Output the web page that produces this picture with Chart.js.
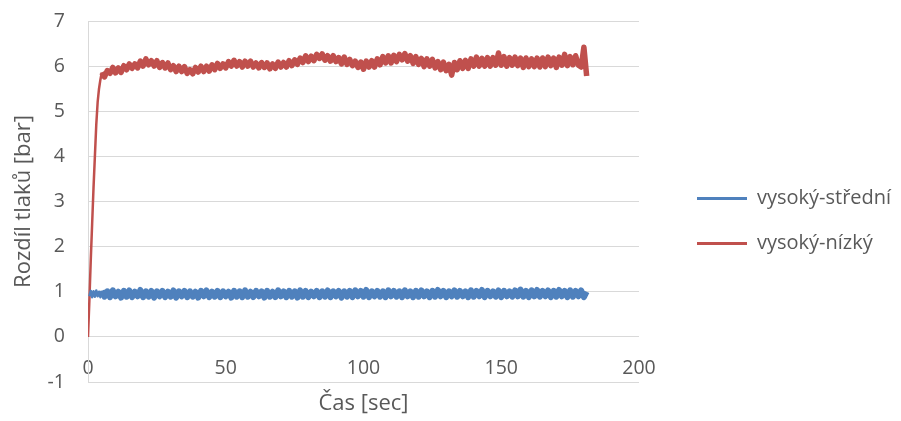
<!DOCTYPE html>
<html>
<head>
<meta charset="utf-8">
<script src="https://cdn.jsdelivr.net/npm/chart.js@4.4.1/dist/chart.umd.min.js"></script>
<style>
  html, body { margin: 0; padding: 0; background: #fff; }
  #wrap { width: 901px; height: 421px; position: relative; }
</style>
</head>
<body>
<div id="wrap"><canvas id="myChart"></canvas></div>
<script>
// sample times [sec]
var times = [0, 0.5, 1, 1.5, 2, 2.5, 3, 3.5, 4, 4.5,
    5, 6, 7, 8, 9, 10, 11, 12, 13, 14, 15, 16, 17, 18, 19, 20, 21, 22, 23, 24,
    25, 26, 27, 28, 29, 30, 31, 32, 33, 34, 35, 36, 37, 38, 39, 40, 41, 42, 43, 44,
    45, 46, 47, 48, 49, 50, 51, 52, 53, 54, 55, 56, 57, 58, 59, 60, 61, 62, 63, 64,
    65, 66, 67, 68, 69, 70, 71, 72, 73, 74, 75, 76, 77, 78, 79, 80, 81, 82, 83, 84,
    85, 86, 87, 88, 89, 90, 91, 92, 93, 94, 95, 96, 97, 98, 99, 100, 101, 102, 103, 104,
    105, 106, 107, 108, 109, 110, 111, 112, 113, 114, 115, 116, 117, 118, 119, 120, 121, 122, 123, 124,
    125, 126, 127, 128, 129, 130, 131, 132, 133, 134, 135, 136, 137, 138, 139, 140, 141, 142, 143, 144,
    145, 146, 147, 148, 149, 150, 151, 152, 153, 154, 155, 156, 157, 158, 159, 160, 161, 162, 163, 164,
    165, 166, 167, 168, 169, 170, 171, 172, 173, 174, 175, 176, 177, 178, 179, 180, 181];

// vysoký-střední [bar]
var stredni = [null, 0.90, 1.02, 0.88, 1.01, 0.89, 1.03, 0.90, 1.00, 0.88,
    1.02, 0.89, 1.01, 0.88, 1.03, 0.90, 1.00, 0.87, 1.02, 0.89,
    1.03, 0.88, 1.00, 0.90, 1.04, 0.88, 1.01, 0.89, 1.02, 0.87,
    1.01, 0.90, 1.02, 0.88, 1.00, 0.89, 1.03, 0.87, 1.01, 0.90,
    1.02, 0.88, 1.01, 0.89, 1.00, 0.87, 1.02, 0.90, 1.03, 0.88,
    1.00, 0.89, 1.02, 0.88, 1.01, 0.90, 1.00, 0.87, 1.02, 0.89,
    1.01, 0.88, 1.03, 0.89, 1.00, 0.88, 1.02, 0.90, 1.01, 0.87,
    1.02, 0.89, 1.00, 0.88, 1.03, 0.90, 1.01, 0.88, 1.02, 0.89,
    1.01, 0.87, 1.03, 0.89, 1.02, 0.88, 1.00, 0.90, 1.02, 0.88,
    1.01, 0.89, 1.03, 0.88, 1.01, 0.90, 1.02, 0.87, 1.01, 0.89,
    1.02, 0.88, 1.03, 0.90, 1.02, 0.89, 1.04, 0.88, 1.01, 0.90,
    1.02, 0.89, 1.01, 0.88, 1.03, 0.90, 1.02, 0.89, 1.01, 0.88,
    1.03, 0.90, 1.01, 0.88, 1.02, 0.89, 1.03, 0.90, 1.01, 0.88,
    1.02, 0.89, 1.04, 0.90, 1.02, 0.88, 1.01, 0.90, 1.03, 0.89,
    1.02, 0.90, 1.01, 0.88, 1.03, 0.89, 1.02, 0.90, 1.04, 0.88,
    1.02, 0.90, 1.01, 0.89, 1.03, 0.88, 1.02, 0.90, 1.01, 0.89,
    1.03, 0.90, 1.05, 0.89, 1.02, 0.88, 1.03, 0.90, 1.04, 0.89,
    1.02, 0.90, 1.03, 0.88, 1.02, 0.89, 1.04, 0.90, 1.02, 0.88,
    1.03, 0.89, 1.02, 0.90, 1.03, 0.88, 1.00];

// vysoký-nízký [bar]
var nizky = [0, 0.8, 1.7, 2.5, 3.3, 4.0, 4.7, 5.2, 5.5, 5.7,
    5.86, 5.76, 5.90, 5.84, 5.97, 5.85, 5.96, 5.86, 6.01, 5.92,
    6.05, 5.95, 6.05, 5.96, 6.11, 6.00, 6.16, 6.03, 6.12, 6.00,
    6.12, 5.97, 6.08, 5.96, 6.07, 5.92, 6.01, 5.88, 6.00, 5.88,
    5.99, 5.84, 5.92, 5.83, 5.97, 5.87, 6.00, 5.88, 6.00, 5.89,
    6.03, 5.92, 6.06, 5.95, 6.05, 5.96, 6.10, 6.00, 6.13, 6.00,
    6.10, 5.98, 6.11, 6.00, 6.11, 5.98, 6.07, 5.96, 6.08, 5.97,
    6.07, 5.94, 6.05, 5.95, 6.09, 5.98, 6.08, 5.98, 6.12, 6.01,
    6.14, 6.04, 6.18, 6.08, 6.23, 6.10, 6.22, 6.12, 6.26, 6.17,
    6.27, 6.13, 6.23, 6.11, 6.23, 6.10, 6.19, 6.05, 6.20, 6.04,
    6.15, 6.01, 6.11, 5.97, 6.09, 5.93, 6.11, 5.98, 6.12, 5.98,
    6.16, 6.03, 6.21, 6.07, 6.23, 6.07, 6.24, 6.10, 6.26, 6.14,
    6.28, 6.11, 6.23, 6.06, 6.21, 6.04, 6.17, 5.99, 6.16, 6.00,
    6.15, 5.96, 6.10, 5.92, 6.09, 5.90, 6.04, 5.80, 6.08, 5.92,
    6.12, 5.95, 6.13, 5.95, 6.16, 6.00, 6.20, 6.00, 6.17, 6.00,
    6.19, 6.00, 6.19, 6.02, 6.29, 6.02, 6.21, 6.00, 6.19, 6.02,
    6.20, 6.01, 6.18, 5.97, 6.18, 5.99, 6.16, 5.99, 6.18, 5.98,
    6.18, 5.99, 6.20, 6.01, 6.18, 5.97, 6.20, 6.02, 6.26, 6.01,
    6.21, 6.03, 6.23, 6.02, 5.98, 6.42, 5.78];

var xTicks = [0, 50, 100, 150, 200];
var yTicks = [-1, 0, 1, 2, 3, 4, 5, 6, 7];

var seriesNames = ['vysoký-střední', 'vysoký-nízký'];
var seriesColors = ['#4F81BD', '#C0504D'];

function toPoints(vals) {
    return times.map(function (t, i) { return { x: t, y: vals[i] }; });
}

// thinner stroke on the initial ramp, thick on the noisy part
function segWidth(w) {
    return function (c) { return c.p1.parsed.x <= 5 ? 2.5 : w; };
}

var grey = '#595959';
var fontFamily = '"Open Sans", "Noto Sans", sans-serif';

var ctx = document.getElementById('myChart').getContext('2d');
var chart = new Chart(ctx, {
    type: 'line',
    data: {
        datasets: [{
            label: seriesNames[0],
            data: toPoints(stredni),
            borderColor: seriesColors[0],
            backgroundColor: seriesColors[0],
            borderWidth: 6,
            borderJoinStyle: 'round',
            segment: { borderWidth: segWidth(6) },
            pointRadius: 0,
            tension: 0
        }, {
            label: seriesNames[1],
            data: toPoints(nizky),
            borderColor: seriesColors[1],
            backgroundColor: seriesColors[1],
            borderWidth: 5.5,
            borderJoinStyle: 'round',
            segment: { borderWidth: segWidth(5.5) },
            pointRadius: 0,
            tension: 0
        }]
    },
    options: {
        responsive: true,
        maintainAspectRatio: false,
        animation: false,
        layout: { padding: { top: 21, left: 0, right: 0, bottom: 0 } },
        plugins: {
            tooltip: { enabled: false },
            legend: {
                position: 'right',
                maxWidth: 229,
                labels: {
                    color: grey,
                    font: { family: fontFamily, size: 20 },
                    boxWidth: 50,
                    boxHeight: 3,
                    padding: 25,
                    generateLabels: function (c) {
                        var items = Chart.defaults.plugins.legend.labels.generateLabels(c);
                        items.forEach(function (it) { it.lineWidth = 0; });
                        return items;
                    }
                }
            }
        },
        scales: {
            x: {
                type: 'linear',
                position: { y: 0 },
                min: 0,
                max: 200,
                afterBuildTicks: function (s) { s.ticks = xTicks.map(function (v) { return { value: v }; }); },
                afterFit: function (s) { s.paddingLeft = 0; s.paddingRight = 0; },
                grid: { display: false, drawTicks: false },
                border: { display: false },
                ticks: { color: grey, padding: 20, font: { family: fontFamily, size: 19.5 } }
            },
            xTitle: {
                type: 'linear',
                axis: 'x',
                position: 'bottom',
                min: 0,
                max: 200,
                grid: { display: false, drawTicks: false },
                border: { display: false },
                ticks: { display: false },
                afterFit: function (s) { s.height = 39; },
                title: {
                    display: true,
                    text: 'Čas [sec]',
                    color: grey,
                    font: { family: fontFamily, size: 22 },
                    padding: { top: 0, bottom: 4 }
                }
            },
            y: {
                type: 'linear',
                position: 'left',
                min: -1,
                max: 7,
                afterBuildTicks: function (s) { s.ticks = yTicks.map(function (v) { return { value: v }; }); },
                afterFit: function (s) { s.width = 88; s.paddingTop = 0; s.paddingBottom = 0; },
                grid: { color: '#d9d9d9', lineWidth: 1, drawTicks: false },
                border: { display: true, color: '#d9d9d9', width: 1 },
                ticks: { color: grey, padding: 23, font: { family: fontFamily, size: 19.5 } },
                title: {
                    display: true,
                    text: 'Rozdíl tlaků [bar]',
                    color: grey,
                    font: { family: fontFamily, size: 22 },
                    padding: { top: 11, bottom: 0 }
                }
            },
            yGap: {
                type: 'linear',
                axis: 'y',
                position: 'right',
                grid: { display: false, drawTicks: false },
                border: { display: false },
                ticks: { display: false },
                afterFit: function (s) { s.width = 33; s.paddingTop = 0; s.paddingBottom = 0; }
            }
        }
    }
});
</script>
</body>
</html>
